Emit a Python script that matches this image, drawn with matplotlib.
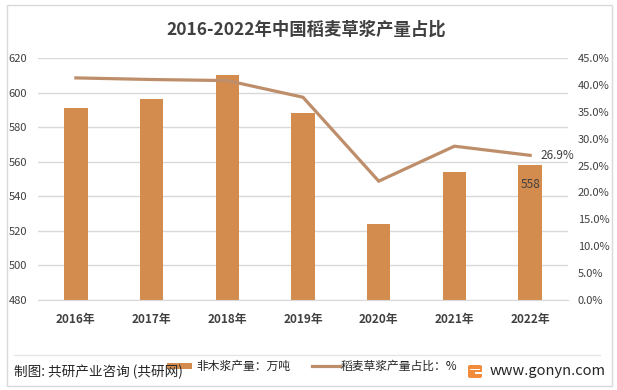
import matplotlib.pyplot as plt
from matplotlib.patches import Rectangle, FancyBboxPatch
from matplotlib.lines import Line2D

plt.rcParams['font.family'] = ['Noto Sans CJK SC', 'DejaVu Sans']

years = ["2016年", "2017年", "2018年", "2019年", "2020年", "2021年", "2022年"]
output_wan_ton = [591, 596, 610, 588, 524, 554, 558]
straw_share = [41.3, 41.0, 40.8, 37.7, 22.1, 28.6, 26.9]

left_ticks = [480, 500, 520, 540, 560, 580, 600, 620]
right_ticks = [0, 5, 10, 15, 20, 25, 30, 35, 40, 45]

BAR = "#D38C4E"
LINE = "#BE8E6B"
TXT = "#404040"
GRID = "#D9D9D9"

W, H = 617, 390
fig = plt.figure(figsize=(W / 100, H / 100), dpi=100)


def fx(px):
    return px / W


def fy(py):
    return 1 - py / H


# outer frame
fig.add_artist(Rectangle((fx(7), fy(386)), fx(612) - fx(7), fy(5) - fy(386),
                         transform=fig.transFigure, fill=False,
                         edgecolor=GRID, linewidth=1))

ax = fig.add_axes([fx(38), fy(300), fx(568) - fx(38), fy(58) - fy(300)])
x = list(range(len(years)))
ax.bar(x, output_wan_ton, width=0.31, color=BAR, zorder=2)
ax.set_xlim(-0.5, len(years) - 0.5)
ax.set_ylim(480, 620)
ax.set_yticks(left_ticks)
ax.set_xticks(x)
ax.set_xticklabels(years, fontsize=8.5, fontweight="bold", color=TXT)
ax.yaxis.grid(True, color=GRID, linewidth=1)
ax.set_axisbelow(True)
for s in ["top", "left", "right"]:
    ax.spines[s].set_visible(False)
ax.spines["bottom"].set_color(GRID)
ax.tick_params(axis="y", length=0, pad=8, labelsize=8, labelcolor=TXT)
ax.tick_params(axis="x", length=0, pad=9)

# value label for last bar
ax.text(x[-1], output_wan_ton[-1] - 11, str(output_wan_ton[-1]), ha="center",
        va="center", fontsize=8.5, color=TXT, zorder=3)

ax2 = ax.twinx()
ax2.plot(x, straw_share, color=LINE, linewidth=2.3, solid_joinstyle="miter")
ax2.set_ylim(0, 45)
ax2.set_yticks(right_ticks)
ax2.set_yticklabels([f"{v:.1f}%" for v in right_ticks])
for s in ["top", "left", "right", "bottom"]:
    ax2.spines[s].set_visible(False)
ax2.tick_params(axis="y", length=0, pad=7, labelsize=8, labelcolor=TXT)
ax2.text(x[-1] + 0.14, straw_share[-1], f"{straw_share[-1]:.1f}%", ha="left",
         va="center", fontsize=8.5, color=TXT)

fig.text(fx(306), fy(30), "2016-2022年中国稻麦草浆产量占比", ha="center",
         va="center", fontsize=12.5, fontweight="bold", color=TXT)

# footer
fig.add_artist(Line2D([fx(14), fx(600)], [fy(355), fy(355)],
                      transform=fig.transFigure, color="#E6E6E6", linewidth=1))
fig.text(fx(14), fy(372), "制图: 共研产业咨询 (共研网)", ha="left", va="center",
         fontsize=9.8, color="#262626")
fig.add_artist(Rectangle((fx(167), fy(369)), fx(192) - fx(167), fy(363) - fy(369),
                         transform=fig.transFigure, color=BAR, linewidth=0))
fig.text(fx(196), fy(366), "非木浆产量：万吨", ha="left", va="center",
         fontsize=8.5, color="#262626")
fig.add_artist(Line2D([fx(312), fx(340)], [fy(366), fy(366)],
                      transform=fig.transFigure, color=LINE, linewidth=2.3))
fig.text(fx(341), fy(366), "稻麦草浆产量占比：%", ha="left", va="center",
         fontsize=8.5, color="#262626")

# logo
fig.add_artist(FancyBboxPatch((fx(468), fy(378)), fx(482) - fx(468), fy(365) - fy(378),
                              boxstyle="round,pad=0,rounding_size=0.004",
                              transform=fig.transFigure, color="#F28C3A", linewidth=0))
fig.add_artist(Rectangle((fx(470), fy(370)), fx(480) - fx(470), fy(368.5) - fy(370),
                         transform=fig.transFigure, color="white", linewidth=0))
fig.add_artist(Rectangle((fx(475), fy(374)), fx(482) - fx(475), fy(372) - fy(374),
                         transform=fig.transFigure, color="white", linewidth=0))
fig.text(fx(490), fy(371), "www.gonyn.com", ha="left", va="center",
         fontsize=10.5, color="#262626")

fig.savefig("out.png", dpi=100)
